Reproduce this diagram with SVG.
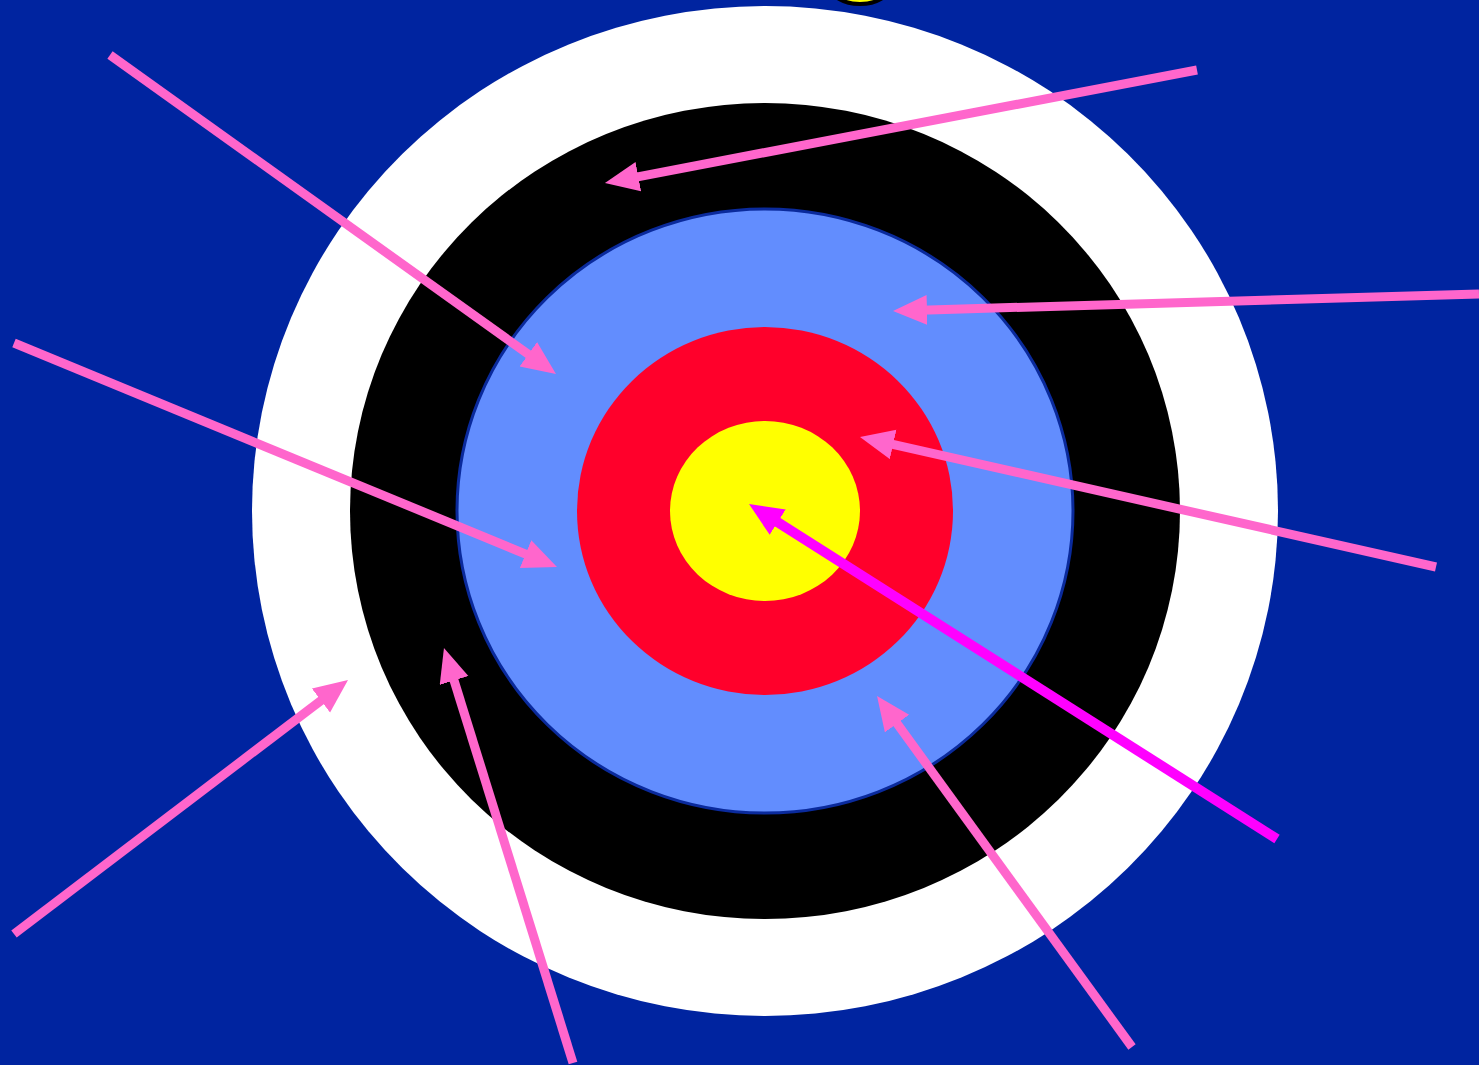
<svg xmlns="http://www.w3.org/2000/svg" width="1479" height="1065" viewBox="0 0 1479 1065">
<defs>
<style>
.arr{stroke:#FF66CC;stroke-width:9;fill:none;marker-end:url(#hp)}
.arrm{stroke:#FF00FF;stroke-width:10;fill:none;marker-end:url(#hm)}
</style>
<marker id="hp" markerUnits="userSpaceOnUse" markerWidth="40" markerHeight="34" refX="14" refY="15" orient="auto" viewBox="0 0 40 34">
<path d="M0,0 L34,15 L0,30 Z" fill="#FF66CC"/>
</marker>
<marker id="hm" markerUnits="userSpaceOnUse" markerWidth="40" markerHeight="34" refX="14" refY="15" orient="auto" viewBox="0 0 40 34">
<path d="M0,0 L34,15 L0,30 Z" fill="#FF00FF"/>
</marker>
</defs>
<rect x="0" y="0" width="1479" height="1065" fill="#0024A0"/>
<g id="top-marker">
<ellipse cx="860" cy="-14" rx="30" ry="18" fill="#FFFF00" stroke="#000" stroke-width="4"/>
</g>
<g id="ring-white"><ellipse cx="765" cy="511" rx="513" ry="505" fill="#FFFFFF"/></g>
<g id="ring-black"><ellipse cx="765" cy="511" rx="415" ry="408" fill="#000000"/></g>
<g id="ring-blue"><ellipse cx="765" cy="511" rx="308" ry="302" fill="#628DFE" stroke="#0A2A9C" stroke-width="3"/></g>
<g id="ring-red"><ellipse cx="765" cy="511" rx="188" ry="184" fill="#FF002B"/></g>
<g id="ring-yellow"><ellipse cx="765" cy="511" rx="95" ry="90" fill="#FFFF00"/></g>
<g id="connectors">
<line class="arr" x1="110" y1="55" x2="539.7" y2="362.4"/>
<line class="arr" x1="1197" y1="70" x2="624.6" y2="179.3"/>
<line class="arr" x1="1479" y1="294" x2="913" y2="310.4"/>
<line class="arr" x1="14" y1="343" x2="538.5" y2="559.4"/>
<line class="arr" x1="1436" y1="567" x2="879.5" y2="441.4"/>
<line class="arr" x1="14" y1="934" x2="332.1" y2="692.1"/>
<line class="arr" x1="573" y1="1063" x2="449.9" y2="667.1"/>
<line class="arr" x1="1132" y1="1047" x2="888.8" y2="712.2"/>
<line class="arrm" x1="1277" y1="839" x2="765.9" y2="514.7"/>
</g>
</svg>
